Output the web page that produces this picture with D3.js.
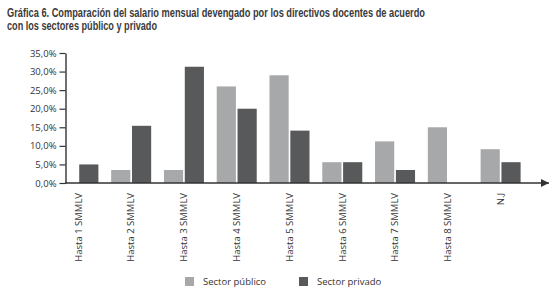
<!DOCTYPE html>
<html>
<head>
<meta charset="utf-8">
<script src="https://cdn.jsdelivr.net/npm/d3@7"></script>
<style>
  html, body { margin: 0; padding: 0; background: #fff; }
  svg { display: block; }
</style>
</head>
<body>
<svg id="chart" width="554" height="291"></svg>
<script>
const categories = ["Hasta 1 SMMLV", "Hasta 2 SMMLV", "Hasta 3 SMMLV", "Hasta 4 SMMLV", "Hasta 5 SMMLV", "Hasta 6 SMMLV", "Hasta 7 SMMLV", "Hasta 8 SMMLV", "N.J"];
const seriesNames = ["Sector público", "Sector privado"];
const publico = [0, 3.5, 3.5, 26.0, 29.0, 5.6, 11.2, 15.0, 9.1];
const privado = [5.0, 15.4, 31.3, 20.0, 14.1, 5.6, 3.5, 0, 5.6];
const yTicks = [0, 5, 10, 15, 20, 25, 30, 35];
const titleLines = ["Gráfica 6. Comparación del salario mensual devengado por los directivos docentes de acuerdo", "con los sectores público y privado"];
const colors = ["#a7a8aa", "#58595b"];

const svg = d3.select("#chart");
const textColor = "#333";
const labelFont = "'Open Sans', 'Noto Sans', sans-serif";

// Title
svg.append("text").attr("x", 7).attr("y", 17)
  .attr("font-family", "'Liberation Sans Narrow', 'Liberation Sans', sans-serif")
  .attr("font-weight", "bold").attr("font-size", 12).attr("fill", "#3a3a3a")
  .attr("textLength", 418).attr("lengthAdjust", "spacingAndGlyphs")
  .text(titleLines[0]);
svg.append("text").attr("x", 7).attr("y", 30)
  .attr("font-family", "'Liberation Sans Narrow', 'Liberation Sans', sans-serif")
  .attr("font-weight", "bold").attr("font-size", 12).attr("fill", "#3a3a3a")
  .attr("textLength", 150).attr("lengthAdjust", "spacingAndGlyphs")
  .text(titleLines[1]);

// Scales
const y = d3.scaleLinear().domain([0, 35]).range([183, 53]);
const x = d3.scaleBand().domain(categories).range([52, 527]).paddingInner(0).paddingOuter(0);
const xs = d3.scaleBand().domain(seriesNames).range([x.bandwidth() / 2 - 20, x.bandwidth() / 2 + 20]).paddingInner(0.08);

// Bars
const data = categories.map((c, i) => ({ cat: c, vals: [publico[i], privado[i]] }));
const groups = svg.append("g").selectAll("g").data(data).join("g")
  .attr("transform", d => `translate(${x(d.cat)},0)`);
groups.selectAll("rect")
  .data(d => d.vals.map((v, j) => ({ v, s: seriesNames[j], j })))
  .join("rect")
  .attr("x", d => xs(d.s))
  .attr("width", xs.bandwidth())
  .attr("y", d => y(d.v))
  .attr("height", d => y(0) - y(d.v))
  .attr("fill", d => colors[d.j]);

// Y axis
const yAxis = svg.append("g").attr("transform", "translate(65.5,0)")
  .call(d3.axisLeft(y).tickValues(yTicks).tickSize(6).tickSizeOuter(0).tickPadding(3)
    .tickFormat(d => d.toFixed(1).replace(".", ",") + "%"));
yAxis.select(".domain").attr("stroke", textColor).attr("stroke-width", 1.4);
yAxis.selectAll(".tick line").attr("stroke", textColor).attr("stroke-width", 1.2);
yAxis.selectAll(".tick text").attr("font-family", labelFont).attr("font-size", 9.5).attr("fill", textColor);

// X axis labels
const xAxis = svg.append("g").attr("transform", `translate(0,${y(0)})`)
  .call(d3.axisBottom(x).tickSize(0));
xAxis.select(".domain").remove();
xAxis.selectAll(".tick text")
  .attr("transform", "rotate(-90)")
  .attr("x", -10).attr("y", 0).attr("dy", "0.35em")
  .style("text-anchor", "end")
  .attr("font-family", labelFont).attr("font-size", 9.5).attr("fill", textColor);

// X axis line with arrow
const defs = svg.append("defs");
defs.append("marker").attr("id", "arrow").attr("viewBox", "0 0 10 10")
  .attr("refX", 10).attr("refY", 5).attr("markerWidth", 10).attr("markerHeight", 8)
  .attr("markerUnits", "userSpaceOnUse").attr("orient", "auto")
  .append("path").attr("d", "M0,0 L10,5 L0,10 Z").attr("fill", textColor);
svg.append("line").attr("x1", 65).attr("x2", 549)
  .attr("y1", y(0)).attr("y2", y(0))
  .attr("stroke", textColor).attr("stroke-width", 1.4)
  .attr("marker-end", "url(#arrow)");

// Legend
const legend = svg.append("g").selectAll("g").data(seriesNames).join("g")
  .attr("transform", (d, i) => `translate(${185 + i * 114},277)`);
legend.append("rect").attr("width", 9).attr("height", 9).attr("fill", (d, i) => colors[i]);
legend.append("text").attr("x", 18).attr("y", 8)
  .attr("font-family", labelFont).attr("font-size", 9.5).attr("fill", textColor)
  .text(d => d);
</script>
</body>
</html>
